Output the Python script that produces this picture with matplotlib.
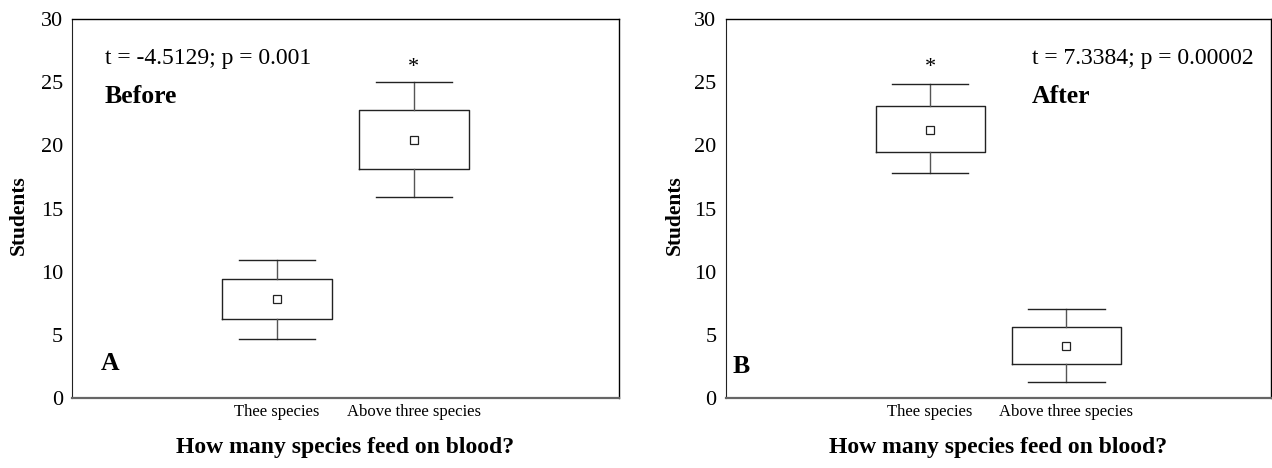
import matplotlib
matplotlib.use("Agg")
import matplotlib.pyplot as plt

plt.rcParams['font.family'] = ['Liberation Serif', 'DejaVu Serif']

categories = ["Thee species", "Above three species"]

# Panel A (Before)
a_whislo = [4.7, 15.9]
a_q1 = [6.25, 18.15]
a_mean = [7.8, 20.4]
a_q3 = [9.45, 22.8]
a_whishi = [10.95, 25.0]

# Panel B (After)
b_whislo = [17.8, 1.25]
b_q1 = [19.5, 2.7]
b_mean = [21.25, 4.15]
b_q3 = [23.1, 5.65]
b_whishi = [24.85, 7.05]

a_stat_text = "t = -4.5129; p = 0.001"
b_stat_text = "t = 7.3384; p = 0.00002"
a_star_index = 1
b_star_index = 0
star_y = 26.2
yticks = [0, 5, 10, 15, 20, 25, 30]

W, H = 1272, 468
fig = plt.figure(figsize=(W / 100, H / 100), dpi=100)
axA = fig.add_axes([72 / W, 1 - 398 / H, 547 / W, 379 / H])
axB = fig.add_axes([725.5 / W, 1 - 398 / H, 545.5 / W, 379 / H])


def draw(ax, whislo, q1, mean, q3, whishi, stat_text, cond, letter, star_idx, text_x, text_ylab):
    stats = []
    for i, lab in enumerate(categories):
        stats.append(dict(label=lab, whislo=whislo[i], q1=q1[i], med=mean[i],
                          q3=q3[i], whishi=whishi[i], mean=mean[i], fliers=[]))
    pos = [1, 2]
    ax.bxp(stats, positions=pos, widths=0.8, showmeans=True, showfliers=False,
           boxprops=dict(color='#222222', linewidth=1.0),
           whiskerprops=dict(color='#555555', linewidth=1.0),
           capprops=dict(color='#222222', linewidth=1.0),
           medianprops=dict(linewidth=0),
           meanprops=dict(marker='s', markerfacecolor='white', markeredgecolor='#222222',
                          markersize=6, markeredgewidth=0.9),
           capwidths=0.56)
    ax.set_xlim(-0.5, 3.5)
    ax.set_ylim(0, 30)
    ax.set_yticks(yticks)
    ax.set_yticklabels([str(v) for v in yticks], fontsize=16)
    ax.set_xticks(pos)
    ax.set_xticklabels(categories, fontsize=12)
    ax.tick_params(axis='y', length=0, pad=6.5)
    ax.tick_params(axis='x', length=0, pad=4)
    for s in ['top', 'right']:
        ax.spines[s].set_color('black')
        ax.spines[s].set_linewidth(1.0)
    ax.spines['left'].set_color('#222222')
    ax.spines['bottom'].set_color('#666666')
    ax.spines['bottom'].set_linewidth(1.6)
    ax.text(star_idx + 1, star_y, "*", ha='center', va='center', fontsize=16)
    ax.text(text_x, 26.9, stat_text, ha='left', va='center', fontsize=17)
    ax.text(text_x, 23.9, cond, ha='left', va='center', fontsize=18.5, fontweight='bold')
    ax.text(letter[1], letter[2], letter[0], ha='left', va='center', fontsize=18.5, fontweight='bold')
    ax.text(0.5, -0.13, "How many species feed on blood?", transform=ax.transAxes,
            ha='center', va='center', fontsize=17, fontweight='bold')
    ax.text(text_ylab, 0.483, "Students", transform=ax.transAxes, rotation=90,
            ha='center', va='center', fontsize=15.5, fontweight='bold')


draw(axA, a_whislo, a_q1, a_mean, a_q3, a_whishi, a_stat_text, "Before",
     ("A", -0.288, 2.7), a_star_index, -0.259, -0.097)
draw(axB, b_whislo, b_q1, b_mean, b_q3, b_whishi, b_stat_text, "After",
     ("B", -0.445, 2.5), b_star_index, 1.745, -0.093)

fig.savefig("out.png", dpi=100)
